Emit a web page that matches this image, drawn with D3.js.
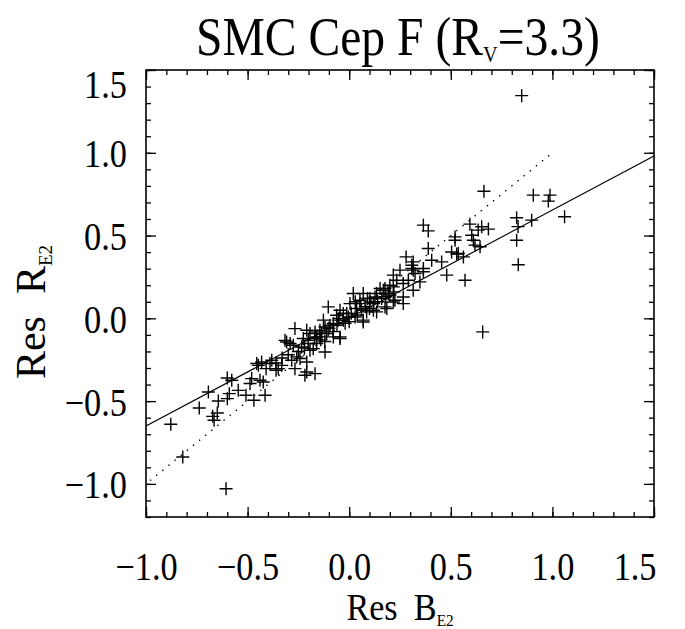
<!DOCTYPE html>
<html><head><meta charset="utf-8">
<script src="https://cdn.jsdelivr.net/npm/d3@7"></script>
<style>body{margin:0;background:#fff} text{font-family:"Liberation Serif",serif;fill:#000}</style>
</head><body><svg id="c" width="685" height="629"></svg>
<script>
// Residuals: B_E2 (x) vs R_E2 (y)
const resB = [-0.878,-0.819,-0.606,-0.738,-0.693,-0.672,-0.665,-0.649,-0.644,-0.600,-0.590,-0.600,-0.546,-0.508,-0.488,-0.469,-0.480,-0.447,-0.439,-0.423,-0.414,-0.409,-0.381,-0.360,-0.349,-0.332,-0.308,-0.283,-0.275,-0.267,-0.267,-0.242,-0.218,-0.209,-0.201,-0.193,-0.168,-0.177,-0.160,-0.135,-0.119,-0.103,-0.119,-0.094,-0.078,-0.045,-0.054,-0.029,-0.004,0.020,0.004,0.037,0.053,0.069,0.086,0.102,0.119,0.135,0.152,0.176,0.192,0.200,0.225,
-0.062,-0.316,-0.291,-0.168,-0.144,-0.209,-0.258,-0.390,-0.431,-0.455,-0.578,-0.234,-0.201,-0.193,
0.280,0.250,0.217,0.266,0.266,0.185,0.168,0.127,0.135,0.069,0.053,0.069,0.029,-0.012,-0.045,-0.029,-0.078,-0.127,-0.144,-0.111,-0.045,-0.209,-0.226,-0.160,
0.365,0.389,0.521,0.389,0.504,0.537,0.406,0.455,0.315,0.308,0.365,0.324,0.480,0.291,0.348,0.570,0.234,0.217,0.315,0.266,0.176,0.217,0.102,
0.849,0.663,0.906,0.988,0.980,1.060,0.824,0.898,0.831,0.824,0.832,0.594,0.652,0.685,0.635,0.603,0.611,0.619,0.644,0.521,0.529,0.562,0.308,0.315,0.365,0.657,
-0.10,-0.08,-0.06,-0.02,0.00,0.01,0.04,0.06,0.08,0.10,0.12,0.14,0.16,0.18,0.20,0.22,-0.14,-0.12,-0.17,-0.22,-0.25,-0.30,-0.33,-0.36,-0.05,0.03,0.09];
const resR = [-0.640,-0.838,-1.029,-0.542,-0.445,-0.592,-0.616,-0.572,-0.499,-0.360,-0.455,-0.485,-0.435,-0.465,-0.394,-0.495,-0.364,-0.284,-0.374,-0.385,-0.465,-0.304,-0.253,-0.314,-0.304,-0.284,-0.143,-0.253,-0.163,-0.062,-0.304,-0.243,-0.344,-0.264,-0.152,-0.092,-0.334,-0.183,-0.112,-0.092,-0.203,0.069,-0.052,-0.042,-0.112,-0.112,-0.011,0.029,0.008,0.150,0.089,0.059,0.109,-0.022,0.039,0.120,0.049,0.150,0.180,0.069,0.150,0.200,0.109,
0.019,-0.133,-0.152,-0.082,-0.112,-0.324,-0.233,-0.273,-0.264,-0.273,-0.374,-0.173,-0.132,-0.193,
0.371,0.291,0.261,0.210,0.089,0.059,0.170,0.129,0.039,0.150,0.089,-0.011,0.008,0.029,0.049,-0.011,-0.031,-0.011,-0.072,-0.092,-0.122,-0.072,-0.122,-0.152,
0.563,0.528,0.492,0.422,0.401,0.392,0.351,0.341,0.341,0.301,0.281,0.271,0.261,0.230,0.220,0.230,0.230,0.190,0.170,0.129,0.180,0.099,0.099,
1.345,0.768,0.744,0.744,0.708,0.614,0.608,0.593,0.554,0.472,0.324,0.569,0.553,0.539,0.533,0.502,0.472,0.442,0.432,0.472,0.388,0.371,0.321,0.291,0.301,-0.082,
-0.06,-0.08,-0.04,-0.03,-0.02,0.03,0.02,0.05,0.07,0.06,0.09,0.10,0.12,0.13,0.14,0.16,-0.13,-0.14,-0.12,-0.18,-0.20,-0.22,-0.24,-0.27,0.00,0.10,0.12];
// Fitted relation (solid) and one-to-one line (dotted)
const fitX = [-1.0, 1.5], fitY = [-0.65, 0.98];
const oneX = [-0.98, 1.0], oneY = [-0.98, 1.0];
const xTicks = [-1.0,-0.5,0.0,0.5,1.0,1.5];
const yTicks = [-1.0,-0.5,0.0,0.5,1.0,1.5];
const xDomain = [-1.0, 1.5], yDomain = [-1.2, 1.5];

const svg = d3.select("#c");
const L=146, R=654, T=70, B=517;
const x = d3.scaleLinear(xDomain,[L,R]);
const y = d3.scaleLinear(yDomain,[B,T]);
const fmt = d3.format(".1f");
const xMinor = d3.range(-10,16).map(d=>d/10);
const yMinor = d3.range(-12,16).map(d=>d/10);
const SX = 0.88; // horizontal squeeze, to mimic tall narrow vector font

function axis(gen, tr){ const g=svg.append("g").attr("transform",tr).call(gen); g.select(".domain").remove(); g.selectAll("line").attr("stroke","#000").attr("stroke-width",1.3); return g;}
// minor ticks
axis(d3.axisBottom(x).tickValues(xMinor).tickSize(-5).tickFormat(""),`translate(0,${B})`);
axis(d3.axisTop(x).tickValues(xMinor).tickSize(-5).tickFormat(""),`translate(0,${T})`);
axis(d3.axisLeft(y).tickValues(yMinor).tickSize(-5).tickFormat(""),`translate(${L},0)`);
axis(d3.axisRight(y).tickValues(yMinor).tickSize(-5).tickFormat(""),`translate(${R},0)`);
// major ticks
const gb = axis(d3.axisBottom(x).tickValues(xTicks).tickSize(-10).tickFormat(fmt),`translate(0,${B})`);
axis(d3.axisTop(x).tickValues(xTicks).tickSize(-10).tickFormat(""),`translate(0,${T})`);
const gl = axis(d3.axisLeft(y).tickValues(yTicks).tickSize(-10).tickFormat(fmt),`translate(${L},0)`);
axis(d3.axisRight(y).tickValues(yTicks).tickSize(-10).tickFormat(""),`translate(${R},0)`);
gb.selectAll("text").attr("font-size",39).attr("font-family","Liberation Serif")
  .attr("y",63).attr("dy",0).attr("x",0).attr("transform",`scale(${SX},1)`);
gl.selectAll("text").attr("font-size",39).attr("font-family","Liberation Serif")
  .attr("x",-19/SX).attr("dy",0).attr("y",14).attr("transform",`scale(${SX},1)`);
gb.selectAll(".tick").filter(d=>d===1.5).select("text").attr("text-anchor","end").attr("x",2/SX);
gl.selectAll(".tick").filter(d=>d===1.5).select("text").attr("y",27);

// frame
svg.append("rect").attr("x",L).attr("y",T).attr("width",R-L).attr("height",B-T).attr("fill","none").attr("stroke","#000").attr("stroke-width",1.6);

// lines
const line = d3.line().x(d=>x(d[0])).y(d=>y(d[1]));
svg.append("path").attr("d",line(d3.zip(fitX,fitY))).attr("stroke","#000").attr("stroke-width",1.2).attr("fill","none");
svg.append("path").attr("d",line(d3.zip(oneX,oneY))).attr("stroke","#000").attr("stroke-width",1.4).attr("stroke-dasharray","1.4,6.5").attr("fill","none");

// points (plus signs)
const pts = d3.zip(resB,resR);
const s=6.5;
svg.append("g").selectAll("path").data(pts).join("path")
  .attr("d",d=>`M${x(d[0])-s},${y(d[1])}h${2*s}M${x(d[0])},${y(d[1])-s}v${2*s}`)
  .attr("stroke","#000").attr("stroke-width",1.4).attr("fill","none");

// title
const t = svg.append("text").attr("transform","translate(398,55) scale(0.85,1)").attr("text-anchor","middle").attr("font-size",56);
t.append("tspan").text("SMC Cep F (R");
t.append("tspan").attr("font-size",24).attr("dy",7).text("V");
t.append("tspan").attr("dy",-7).text("=3.3)");
// x label
const xl = svg.append("text").attr("transform","translate(400,620) scale(0.9,1)").attr("text-anchor","middle").attr("font-size",38);
xl.append("tspan").text("Res");
xl.append("tspan").attr("dx",18).text("B");
xl.append("tspan").attr("font-size",17).attr("dy",6).text("E2");
// y label
const yl = svg.append("text").attr("transform","translate(45,312) rotate(-90)").attr("text-anchor","middle").attr("font-size",42);
yl.append("tspan").text("Res");
yl.append("tspan").attr("dx",22).text("R");
yl.append("tspan").attr("font-size",19).attr("dy",7).text("E2");
</script></body></html>
